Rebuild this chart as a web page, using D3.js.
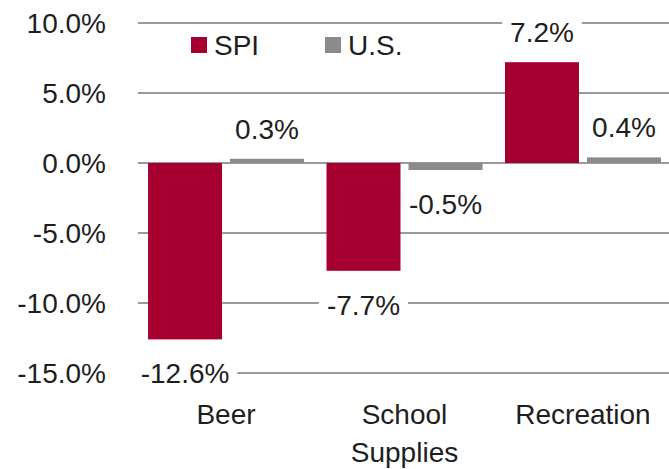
<!DOCTYPE html>
<html lang="en">
<head>
<meta charset="UTF-8">
<title>SPI vs U.S.</title>
<script src="https://d3js.org/d3.v7.min.js"></script>
<style>
    body { margin: 0; background: #fff; }
    text { font-family: "Liberation Sans", Arial, sans-serif; fill: #1e1e1e; }
    .tick-label { font-size: 28px; text-anchor: end; }
    .value-label { font-size: 28px; text-anchor: middle; }
    .cat-label { font-size: 28px; text-anchor: middle; }
    .legend text { font-size: 28px; }
    .grid line { stroke: #9a9a9a; stroke-width: 2px; }
</style>
</head>
<body>
<svg width="669" height="469"></svg>
<script>
    const categories = ["Beer", "School Supplies", "Recreation"];
    const seriesNames = ["SPI", "U.S."];
    const spiValues = [-12.6, -7.7, 7.2];
    const usValues = [0.3, -0.5, 0.4];
    const yTicks = [10, 5, 0, -5, -10, -15];

    const width = 669, height = 469;
    const margin = {top: 23, right: 0, bottom: 96, left: 140};

    const svg = d3.select("svg");
    const colors = d3.scaleOrdinal().domain(seriesNames).range(["#a50030", "#8d8a8c"]);
    // plain hyphen instead of unicode minus
    const pct = v => d3.format(".1f")(v).replace("\u2212", "-") + "%";

    const x = d3.scaleBand()
        .domain(categories)
        .range([margin.left, width - margin.right])
        .paddingInner(0.126)
        .paddingOuter(0.045);

    const xs = d3.scaleBand()
        .domain(seriesNames)
        .range([0, x.bandwidth()])
        .paddingInner(0.0976);

    const y = d3.scaleLinear()
        .domain([-15, 10])
        .range([height - margin.bottom, margin.top]);

    // grid lines
    svg.append("g").attr("class", "grid")
        .selectAll("line")
        .data(yTicks)
        .enter().append("line")
        .attr("x1", 138)
        .attr("x2", width)
        .attr("y1", d => y(d))
        .attr("y2", d => y(d));

    // y tick labels
    svg.append("g")
        .selectAll("text")
        .data(yTicks)
        .enter().append("text")
        .attr("class", "tick-label")
        .attr("x", 106)
        .attr("y", d => y(d))
        .attr("dy", "0.36em")
        .text(d => pct(d));

    const rows = [];
    categories.forEach((c, i) => {
        rows.push({cat: c, series: "SPI", value: spiValues[i]});
        rows.push({cat: c, series: "U.S.", value: usValues[i]});
    });

    // value labels with white backing so gridlines break behind them (drawn before bars)
    const labels = svg.append("g")
        .selectAll("g")
        .data(rows)
        .enter().append("g")
        .attr("transform", d => {
            const cx = x(d.cat) + xs(d.series) + xs.bandwidth() / 2;
            const cy = d.value >= 0 ? y(d.value) - 30 : y(d.value) + 34;
            return `translate(${cx},${cy})`;
        });

    labels.append("text")
        .attr("class", "value-label")
        .attr("dy", "0.36em")
        .text(d => pct(d.value));

    labels.each(function() {
        const g = d3.select(this);
        const bb = g.select("text").node().getBBox();
        g.insert("rect", "text")
            .attr("x", bb.x - 8)
            .attr("y", bb.y)
            .attr("width", bb.width + 16)
            .attr("height", bb.height)
            .attr("fill", "#fff");
    });

    // bars
    svg.append("g")
        .selectAll("rect")
        .data(rows)
        .enter().append("rect")
        .attr("x", d => x(d.cat) + xs(d.series))
        .attr("width", xs.bandwidth())
        .attr("y", d => y(Math.max(0, d.value)))
        .attr("height", d => Math.abs(y(d.value) - y(0)))
        .attr("fill", d => colors(d.series));

    // category labels
    const cat = svg.append("g")
        .selectAll("text")
        .data(categories)
        .enter().append("text")
        .attr("class", "cat-label")
        .attr("x", d => x(d) + x.bandwidth() / 2)
        .attr("y", 424);

    cat.selectAll("tspan")
        .data(d => d === "School Supplies" ? ["School", "Supplies"] : [d])
        .enter().append("tspan")
        .attr("x", function() { return d3.select(this.parentNode).attr("x"); })
        .attr("dy", (d, i) => i === 0 ? 0 : 38)
        .text(d => d);

    // legend
    const legend = svg.append("g").attr("class", "legend")
        .attr("transform", "translate(191, 37)");

    const item = legend.selectAll("g")
        .data(seriesNames)
        .enter().append("g")
        .attr("transform", (d, i) => `translate(${i * 134}, 0)`);

    item.append("rect")
        .attr("width", 16)
        .attr("height", 16)
        .attr("fill", d => colors(d));

    item.append("text")
        .attr("x", 23)
        .attr("y", 8)
        .attr("dy", "0.36em")
        .text(d => d);
</script>
</body>
</html>
